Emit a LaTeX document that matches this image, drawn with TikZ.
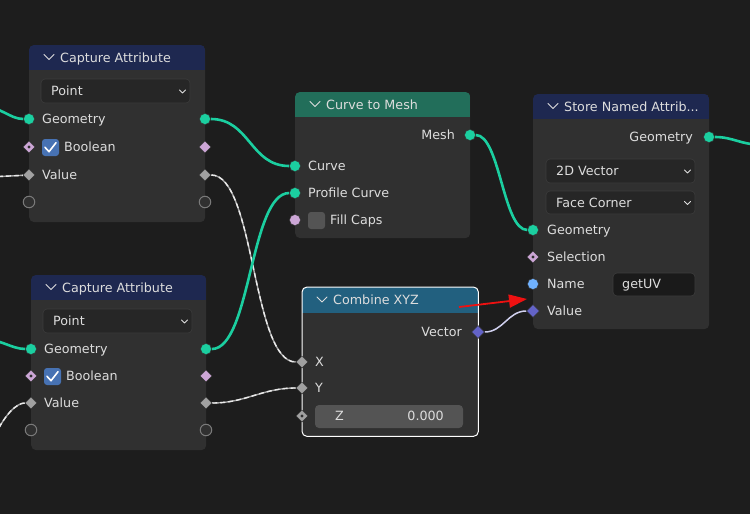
\documentclass[tikz,border=0pt]{standalone}
\usepackage{fontspec}
\setmainfont{DejaVu Sans}
\usetikzlibrary{shapes.geometric,arrows.meta,calc}

\definecolor{bgc}{HTML}{1D1D1D}
\definecolor{bodyc}{HTML}{303030}
\definecolor{hdrnavy}{HTML}{1E2850}
\definecolor{hdrgreen}{HTML}{226E5A}
\definecolor{hdrblue}{HTML}{22607F}
\definecolor{geoc}{HTML}{1BCFA0}
\definecolor{boolc}{HTML}{CCA6D6}
\definecolor{valc}{HTML}{A1A1A1}
\definecolor{vecc}{HTML}{6363C7}
\definecolor{strc}{HTML}{70B2FF}
\definecolor{emptyc}{HTML}{7A7A7A}
\definecolor{txtc}{HTML}{DDDDDD}
\definecolor{fieldc}{HTML}{A8A8A8}
\definecolor{boxc}{HTML}{262626}
\definecolor{boxline}{HTML}{3C3C3C}
\definecolor{slidec}{HTML}{545454}
\definecolor{checkc}{HTML}{4772B3}
\definecolor{markred}{HTML}{EE1111}

\pgfdeclarelayer{back}
\pgfdeclarelayer{wires}
\pgfsetlayers{back,wires,main}

\newcommand{\nfont}{\fontsize{12.7}{15}\selectfont}

\tikzset{
  nodebody/.style={anchor=north west, fill=bodyc, rounded corners=5, inner sep=0},
  chev/.style={draw=txtc, line width=1, line cap=round, line join=round},
  ttl/.style={anchor=west, inner sep=0, font=\nfont, text=txtc, text height=9.3pt, text depth=0pt},
  lbl/.style={ttl},
  lblr/.style={ttl, anchor=east},
  sock/.style={inner sep=0, draw=black!80, line width=0.5},
  sgeo/.style={sock, circle, fill=geoc, minimum size=11},
  sstr/.style={sock, circle, fill=strc, minimum size=11},
  scaps/.style={sock, circle, fill=boolc, minimum size=11},
  sempty/.style={inner sep=0, circle, draw=emptyc, line width=1, fill=bodyc, minimum size=11.5},
  sbool/.style={sock, diamond, fill=boolc, minimum size=12},
  sval/.style={sock, diamond, fill=valc, minimum size=12},
  svec/.style={sock, diamond, fill=vecc, minimum size=13},
  dot/.style={path picture={\fill[bodyc] (path picture bounding box.center) circle (1.7);}},
  geolink/.style={draw=geoc, line width=2.6},
  fieldlink/.style={draw=fieldc, line width=1.4, postaction={draw=white!92!black, line width=1.4, dash pattern=on 5 off 3}},
  veclink/.style={draw=white!70!vecc, line width=1.5},
  dropbox/.style={fill=boxc, draw=boxline, line width=0.6, rounded corners=4},
  checkbox/.style={fill=checkc, rounded corners=3},
  redarrow/.style={draw=markred, line width=1.8, -{Triangle[length=18,width=13]}}
}

% body, header, chevron and title of one node
\newcommand{\bnode}[8]{%
  \node[nodebody, minimum width=#4, minimum height=#5] (#1) at (#2,#3) {};
  \begin{scope}
    \clip[rounded corners=5] (#1.north west) rectangle (#1.south east);
    \fill[#7] (#1.north west) rectangle ($(#1.north east)+(0,#6)$);
  \end{scope}
  \draw[chev] ($(#1.north west)+(15,#6/2-3)$) -- ++(5,5) -- ++(5,-5);
  \node[ttl] at ($(#1.north west)+(31,#6/2)$) {#8};
}
% drop-down field
\newcommand{\ddown}[5]{%
  \draw[dropbox] (#1,#2) rectangle (#3,#4);
  \draw[chev, line width=0.9] ($(#3,{(#2+#4)/2})+(-10.5,-1)$) -- ++(3,3) -- ++(3,-3);
  \node[lbl] at (#1+10,{(#2+#4)/2}) {#5};
}
% tick box
\newcommand{\tick}[2]{%
  \fill[checkbox] (#1,#2) rectangle ++(17,17);
  \draw[white, line width=1.6, line cap=round, line join=round] (#1+3,#2+8.3) -- (#1+7,#2+12.7) -- (#1+14,#2+3.7);
}

\begin{document}
\begin{tikzpicture}[x=1pt,y=-1pt]
\useasboundingbox (0,0) rectangle (750,514);
\begin{pgfonlayer}{back}
  \fill[bgc] (0,0) rectangle (750,514);
\end{pgfonlayer}

% nodes
\bnode{capA}{29}{45}{176}{177}{25}{hdrnavy}{Capture Attribute}
\bnode{capB}{31}{275}{175}{175}{25}{hdrnavy}{Capture Attribute}
\bnode{ctm}{295}{92}{175}{146}{25}{hdrgreen}{Curve to Mesh}
\bnode{cxyz}{302}{287}{176}{149}{26}{hdrblue}{Combine XYZ}
\bnode{store}{533}{94}{176}{235}{25}{hdrnavy}{Store Named Attrib...}
\draw[white, line width=1, rounded corners=5] (cxyz.north west) rectangle (cxyz.south east);

% capture attribute, top
\ddown{41}{79}{190}{103}{Point}
\tick{42}{139}
\node[lbl] at (42,119) {Geometry};
\node[lbl] at (64,147) {Boolean};
\node[lbl] at (42,175) {Value};
\node[sgeo] (capAgin) at (29,119) {};
\node[sbool, dot] (capAbin) at (29,147) {};
\node[sval] (capAvin) at (29,175) {};
\node[sempty] (capAein) at (29,202) {};
\node[sgeo] (capAgout) at (205,119) {};
\node[sbool] (capAbout) at (205,147) {};
\node[sval] (capAvout) at (205,175) {};
\node[sempty] (capAeout) at (205,202) {};

% capture attribute, bottom
\ddown{43}{309}{192}{333}{Point}
\tick{44}{368}
\node[lbl] at (44,349) {Geometry};
\node[lbl] at (66,376) {Boolean};
\node[lbl] at (44,403) {Value};
\node[sgeo] (capBgin) at (31,349) {};
\node[sbool, dot] (capBbin) at (31,376) {};
\node[sval] (capBvin) at (31,403) {};
\node[sempty] (capBein) at (31,430) {};
\node[sgeo] (capBgout) at (206,349) {};
\node[sbool] (capBbout) at (206,376) {};
\node[sval] (capBvout) at (206,403) {};
\node[sempty] (capBeout) at (206,430) {};

% curve to mesh
\node[lblr] at (455,135) {Mesh};
\node[lbl] at (308,166) {Curve};
\node[lbl] at (308,193) {Profile Curve};
\fill[slidec, rounded corners=3] (308,212) rectangle (325,229);
\node[lbl] at (330,220) {Fill Caps};
\node[sgeo] (ctmmesh) at (470,135) {};
\node[sgeo] (ctmcurve) at (295,166) {};
\node[sgeo] (ctmprof) at (295,193) {};
\node[scaps] (ctmcaps) at (295,220) {};

% combine xyz
\node[lblr] at (462,332) {Vector};
\node[lbl] at (315,362) {X};
\node[lbl] at (315,388) {Y};
\fill[slidec, rounded corners=4] (315,405) rectangle (463,428);
\node[lbl] at (335,416) {Z};
\node[lblr] at (444,416) {0.000};
\node[svec] (cxyzvec) at (478,332) {};
\node[sval] (cxyzx) at (302,362) {};
\node[sval] (cxyzy) at (302,388) {};
\node[sval, dot] (cxyzz) at (302,416) {};

% store named attribute
\node[lblr] at (693,137) {Geometry};
\ddown{546}{159}{695}{183}{2D Vector}
\ddown{546}{191}{695}{214}{Face Corner}
\node[lbl] at (547,230) {Geometry};
\node[lbl] at (547,257) {Selection};
\node[lbl] at (547,284) {Name};
\draw[dropbox, fill=bgc!90!black] (613,273) rectangle (695,296);
\node[lbl] at (622,284) {getUV};
\node[lbl] at (547,311) {Value};
\node[sgeo] (storegout) at (709,137) {};
\node[sgeo] (storegin) at (533,230) {};
\node[sbool, dot] (storesel) at (533,257) {};
\node[sstr] (storename) at (533,284) {};
\node[svec] (storeval) at (533,311) {};

% free ends
\coordinate (inA) at (-25,105);
\coordinate (inB) at (-10,177);
\coordinate (inC) at (-25,338);
\coordinate (inD) at (-8,442);
\coordinate (outA) at (765,145);
\coordinate (mkA) at (459,307);
\coordinate (mkB) at (527,299);

% links
\begin{pgfonlayer}{wires}
  \draw[geolink] (inA) .. controls +(25,0) and +(-20,0) .. (capAgin);
  \draw[fieldlink] (inB) -- (capAvin);
  \draw[geolink] (inC) .. controls +(25,0) and +(-20,0) .. (capBgin);
  \draw[fieldlink] (inD) .. controls +(12,-28) and +(-14,0) .. (capBvin);
  \draw[geolink] (capAgout) .. controls +(45,0) and +(-45,0) .. (ctmcurve);
  \draw[fieldlink] (capAvout) .. controls +(50,0) and +(-50,0) .. (cxyzx);
  \draw[geolink] (capBgout) .. controls +(45,0) and +(-45,0) .. (ctmprof);
  \draw[fieldlink] (capBvout) .. controls +(40,0) and +(-40,0) .. (cxyzy);
  \draw[geolink] (ctmmesh) .. controls +(30,0) and +(-30,0) .. (storegin);
  \draw[veclink] (cxyzvec) .. controls +(25,0) and +(-25,0) .. (storeval);
  \draw[geolink] (storegout) .. controls +(25,0) and +(-25,0) .. (outA);
\end{pgfonlayer}

\draw[redarrow] (mkA) -- (mkB);
\end{tikzpicture}
\end{document}
